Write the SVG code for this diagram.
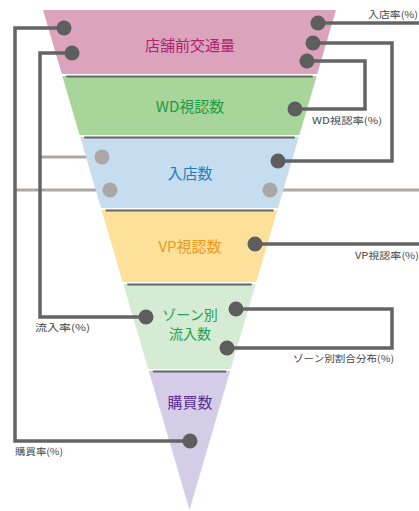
<svg xmlns="http://www.w3.org/2000/svg" width="419" height="511" viewBox="0 0 419 511">
<style>
.band-t{font-family:"Noto Sans CJK JP","Noto Sans",sans-serif;font-size:15px;text-anchor:middle}
.band-s{font-family:"Noto Sans CJK JP","Noto Sans",sans-serif;font-size:14px;text-anchor:middle}
.sep{stroke:#666;stroke-width:2.2;fill:none}
.wire{stroke:#646464;stroke-width:3.5;fill:none}
.wire-l{stroke:#aba7a5;stroke-width:3;fill:none}
.dot{fill:#5e5e5e}
.dot-l{fill:#aba7a5}
.lbl{font-family:"Noto Sans CJK JP","Noto Sans",sans-serif;font-size:9.5px;fill:#444}
</style>
<rect width="419" height="511" fill="#fff"/>
<g id="connectors-light">
<path class="wire-l" d="M102,157 H40"/>
<path class="wire-l" d="M110,190 H15"/>
<path class="wire-l" d="M270,190 H419"/>
</g>
<g id="band1">
<polygon points="43,10 336,10 317.2,74 61.8,74" fill="#dca3bd"/>
<text class="band-t" x="190" y="51" fill="#b0236e">店舗前交通量</text>
</g>
<g id="band2">
<polygon points="62.3,76 316.7,76 299.4,135 79.6,135" fill="#a8d59a"/>
<line class="sep" x1="66.3" y1="76.5" x2="312.7" y2="76.5"/>
<text class="band-t" x="190" y="112" fill="#1f9a48">WD視認数</text>
</g>
<g id="band3">
<polygon points="80.2,137 298.8,137 278,208 101,208" fill="#c6ddef"/>
<line class="sep" x1="84.2" y1="137.5" x2="294.8" y2="137.5"/>
<text class="band-t" x="190" y="179" fill="#1e7fbf">入店数</text>
</g>
<g id="band4">
<polygon points="101.6,210 277.4,210 256.3,282 122.7,282" fill="#fde09a"/>
<line class="sep" x1="105.6" y1="210.5" x2="273.4" y2="210.5"/>
<text class="band-t" x="190" y="252" fill="#eb9a1c">VP視認数</text>
</g>
<g id="band5">
<polygon points="123.3,284 255.7,284 230.8,369 148.2,369" fill="#d6ebd4"/>
<line class="sep" x1="127.3" y1="284.5" x2="251.7" y2="284.5"/>
<text class="band-s" x="190" y="320" fill="#23a050">ゾーン別</text>
<text class="band-s" x="190" y="339" fill="#23a050">流入数</text>
</g>
<g id="band6">
<polygon points="148.8,371 230.2,371 189.5,510" fill="#d5cde8"/>
<line class="sep" x1="152.8" y1="371.5" x2="226.2" y2="371.5"/>
<text class="band-t" x="190" y="408" fill="#5a2d91">購買数</text>
</g>
<g id="connectors">
<path class="wire" d="M64,28 H15 V441 H190"/>
<path class="wire" d="M72,53 H40 V317 H146"/>
<path class="wire" d="M318,23 H419"/>
<path class="wire" d="M313,43 H392 V161 H278"/>
<path class="wire" d="M307,61 H365 V109 H295"/>
<path class="wire" d="M255,244 H419"/>
<path class="wire" d="M236,309 H392 V348 H227"/>
<circle class="dot" cx="64" cy="28" r="7.5"/>
<circle class="dot" cx="72" cy="53" r="7.5"/>
<circle class="dot" cx="190" cy="441" r="7.5"/>
<circle class="dot" cx="146" cy="317" r="7.5"/>
<circle class="dot" cx="318" cy="23" r="7.5"/>
<circle class="dot" cx="313" cy="43" r="7.5"/>
<circle class="dot" cx="278" cy="161" r="7.5"/>
<circle class="dot" cx="307" cy="61" r="7.5"/>
<circle class="dot" cx="295" cy="109" r="7.5"/>
<circle class="dot" cx="255" cy="244" r="7.5"/>
<circle class="dot" cx="236" cy="309" r="7.5"/>
<circle class="dot" cx="227" cy="348" r="7.5"/>
<circle class="dot-l" cx="102" cy="157" r="7.5"/>
<circle class="dot-l" cx="110" cy="190" r="7.5"/>
<circle class="dot-l" cx="270" cy="190" r="7.5"/>
</g>
<g id="labels">
<text class="lbl" x="368" y="17.5" textLength="50" lengthAdjust="spacingAndGlyphs">入店率(%)</text>
<text class="lbl" x="312" y="124" textLength="70" lengthAdjust="spacingAndGlyphs">WD視認率(%)</text>
<text class="lbl" x="355" y="259" textLength="64" lengthAdjust="spacingAndGlyphs">VP視認率(%)</text>
<text class="lbl" x="293" y="362" textLength="101" lengthAdjust="spacingAndGlyphs">ゾーン別割合分布(%)</text>
<text class="lbl" x="35" y="331" textLength="55" lengthAdjust="spacingAndGlyphs">流入率(%)</text>
<text class="lbl" x="15" y="455" textLength="48" lengthAdjust="spacingAndGlyphs">購買率(%)</text>
</g>
</svg>
